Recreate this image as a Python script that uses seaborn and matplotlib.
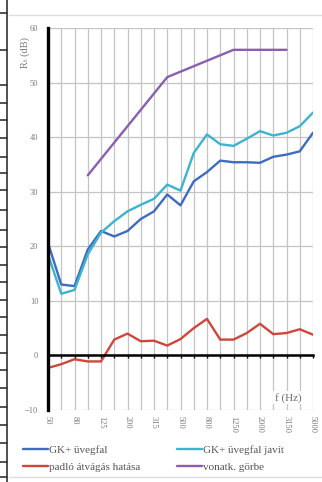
import numpy as np
import pandas as pd
import matplotlib
matplotlib.use("Agg")
import matplotlib.pyplot as plt
from matplotlib.lines import Line2D
import seaborn as sns

# Third-octave band centre frequencies (Hz)
freqs = ["50", "63", "80", "100", "125", "160", "200", "250", "315", "400",
         "500", "630", "800", "1000", "1250", "1600", "2000", "2500", "3150",
         "4000", "5000"]

# Sound reduction index per band (dB)
gk_uvegfal = [20.6, 13.0, 12.7, 19.4, 22.8, 21.8, 22.8, 25.0, 26.4, 29.5, 27.5,
              31.9, 33.6, 35.7, 35.4, 35.4, 35.3, 36.4, 36.8, 37.4, 40.8]
gk_uvegfal_javit = [18.5, 11.3, 12.0, 18.5, 22.5, 24.6, 26.4, 27.6, 28.7, 31.3,
                    30.2, 37.1, 40.5, 38.7, 38.4, 39.7, 41.1, 40.3, 40.8, 42.0,
                    44.5]
padlo_atvagas = [-2.3, -1.6, -0.7, -1.1, -1.1, 2.9, 4.0, 2.6, 2.7, 1.8, 3.0, 5.0,
                 6.7, 2.9, 2.9, 4.1, 5.8, 3.9, 4.1, 4.8, 3.8]
vonatk_gorbe = [np.nan, np.nan, np.nan, 33, 36, 39, 42, 45, 48, 51, 52, 53, 54,
                55, 56, 56, 56, 56, 56, np.nan, np.nan]

series_names = ["GK+ üvegfal", "GK+ üvegfal javít", "padló átvágás hatása",
                "vonatk. görbe"]
series_values = [gk_uvegfal, gk_uvegfal_javit, padlo_atvagas, vonatk_gorbe]
colors = ["#3d6cc0", "#3db3d2", "#d0463c", "#8b5eae"]

rows = []
for name, vals in zip(series_names, series_values):
    for i, (f, v) in enumerate(zip(freqs, vals)):
        rows.append({"pos": i, "freq": f, "series": name, "value": v})
df = pd.DataFrame(rows).dropna()

sns.set_style("white")
plt.rcParams["font.family"] = ["Liberation Serif", "DejaVu Serif"]

fig = plt.figure(figsize=(3.22, 4.82), dpi=100)
ax = fig.add_axes([48 / 322, 1 - 410 / 482, 265 / 322, 382 / 482])

sns.lineplot(data=df, x="pos", y="value", hue="series", hue_order=series_names,
             palette=colors, linewidth=1.7, sort=True, ax=ax, legend=True)

ax.set_xlim(0, len(freqs) - 1)
ax.set_ylim(-10, 60)
ax.set_yticks(np.arange(-10, 61, 10))

# Grid on every band, labels on every second band
grid_col = "#c4c4c4"
ax.set_xticks(range(len(freqs)))
ax.set_xticklabels([])
ax.grid(True, color=grid_col, linewidth=0.9)
ax.set_axisbelow(True)

for side in ["top", "right"]:
    ax.spines[side].set_visible(False)
ax.spines["left"].set_color("black")
ax.spines["left"].set_linewidth(2.4)
ax.spines["bottom"].set_position(("data", 0))
ax.spines["bottom"].set_color("black")
ax.spines["bottom"].set_linewidth(1.8)
ax.tick_params(axis="x", which="both", direction="out", length=2.5, width=1.0,
               color="black", labelbottom=False, bottom=True)
ax.tick_params(axis="y", direction="out", length=3, width=0.8, color="black",
               labelsize=6, labelcolor="#7a7a7a", pad=4)

sec = ax.secondary_xaxis(0.0)
sec.set_xticks(range(0, len(freqs), 2))
sec.set_xticklabels(freqs[::2], rotation=-90, fontsize=6, color="#7a7a7a")
sec.tick_params(length=0, pad=4)
sec.spines["bottom"].set_visible(False)

ax.set_xlabel("")
ax.set_ylabel("")
ax.text(-0.085, 0.935, "Rₜ (dB)", transform=ax.transAxes, rotation=90,
        ha="center", va="center", fontsize=7.5, color="#7a7a7a",
        family=["Liberation Serif", "DejaVu Serif"])
ax.text(0.905, 0.032, "f (Hz)", transform=ax.transAxes, ha="center",
        va="center", fontsize=8, color="#6a6a6a",
        bbox=dict(facecolor="white", edgecolor="none", pad=1.0))

# Legend below the chart in two columns
handles, labels = ax.get_legend_handles_labels()
ax.get_legend().remove()
order = [0, 2, 1, 3]
fig.legend([handles[i] for i in order], [labels[i] for i in order],
           loc="upper left", bbox_to_anchor=(23 / 322, 1 - 445 / 482),
           bbox_transform=fig.transFigure, ncol=2, frameon=False,
           fontsize=8, handlelength=2.25, handletextpad=0.1,
           columnspacing=3.3, labelspacing=0.65, borderpad=0,
           borderaxespad=0, labelcolor="#555555")

# Page frame around the chart
fig.add_artist(Line2D([7 / 322, 7 / 322], [0, 1], transform=fig.transFigure,
                      color="#333333", linewidth=1.2))
for yy in [13, 50, 85, 103, 120, 138, 157, 173, 190, 210, 230, 247, 265, 282,
           300, 317, 335, 353, 370, 388, 407, 425, 443, 462, 477]:
    fig.add_artist(Line2D([0, 7 / 322], [1 - yy / 482, 1 - yy / 482],
                          transform=fig.transFigure, color="#333333",
                          linewidth=1.2))
fig.add_artist(Line2D([9 / 322, 1], [1 - 15 / 482, 1 - 15 / 482],
                      transform=fig.transFigure, color="#dddddd", linewidth=1.0))
fig.add_artist(Line2D([9 / 322, 1], [1 - 477 / 482, 1 - 477 / 482],
                      transform=fig.transFigure, color="#dddddd", linewidth=1.0))

fig.savefig("out.png", dpi=100)
